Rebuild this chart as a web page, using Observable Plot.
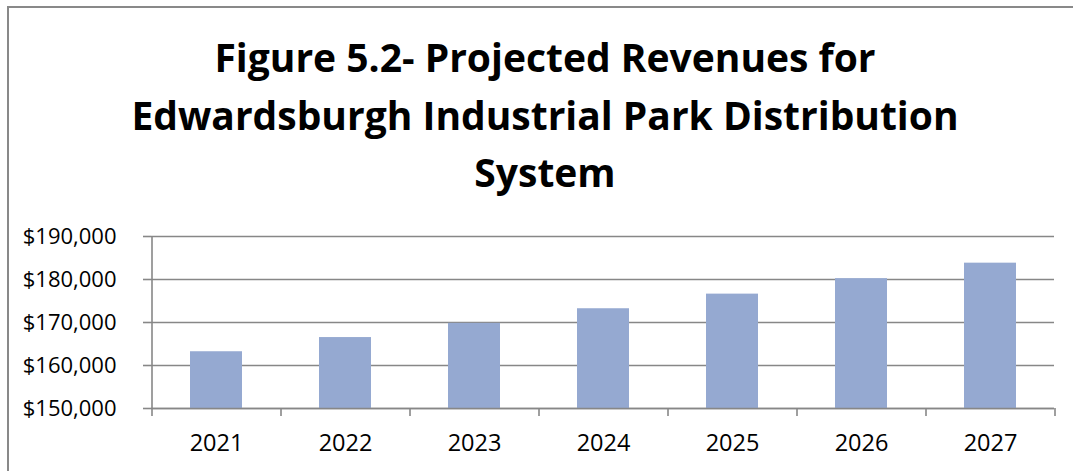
<!DOCTYPE html>
<html>
<head>
<meta charset="utf-8">
<script src="https://cdn.jsdelivr.net/npm/d3@7"></script>
<script src="https://cdn.jsdelivr.net/npm/@observablehq/plot@0.6"></script>
<style>
  html, body { margin: 0; padding: 0; background: #fff; overflow: hidden; width: 1073px; height: 471px; }
  #frame { position: absolute; left: 7px; top: 6px; width: 1074px; height: 480px; border: 2px solid #898989; box-sizing: border-box; }
  #title { position: absolute; left: 0; top: 28px; width: 1090px; text-align: center; font-family: "Open Sans", sans-serif; font-weight: 700; font-size: 39px; line-height: 57.5px; color: #000; }
  #chart { position: absolute; left: 0; top: 210px; }
</style>
</head>
<body>
<div id="frame"></div>
<div id="title">Figure 5.2- Projected Revenues for<br>Edwardsburgh Industrial Park Distribution<br>System</div>
<div id="chart"></div>
<script>
const years = ["2021", "2022", "2023", "2024", "2025", "2026", "2027"];
const revenues = [163200, 166500, 169800, 173200, 176600, 180200, 183800];
const yDomain = [150000, 190000];
const yTicks = [150000, 160000, 170000, 180000, 190000];

const data = years.map((y, i) => ({year: y, revenue: revenues[i]}));

const W = 1073, H = 261, mL = 151, mR = 19, mT = 26, mB = 63;
const step = (W - mL - mR) / years.length;
const grid = "#878787";

const chart = Plot.plot({
  width: W,
  height: H,
  marginLeft: mL,
  marginRight: mR,
  marginTop: mT,
  marginBottom: mB,
  style: {fontFamily: "'Open Sans', sans-serif", fontSize: "22px", color: "#000", background: "transparent", overflow: "visible"},
  x: {type: "band", domain: years, paddingInner: 0.6, paddingOuter: 0.3, axis: null, label: null},
  y: {domain: yDomain, axis: null, label: null},
  marks: [
    Plot.ruleY(yTicks, {stroke: grid, strokeWidth: 1.6}),
    Plot.barY(data, {x: "year", y1: yDomain[0], y2: "revenue", fill: "#95A9D1"}),
    Plot.ruleY([yDomain[0]], {stroke: grid, strokeWidth: 1.6}),
    Plot.ruleX([0], {x: () => years[0], dx: -step / 2, y1: yDomain[0], y2: yDomain[1], stroke: grid, strokeWidth: 1.6}),
    Plot.ruleX(years, {x: d => d, dx: -step / 2, y1: yDomain[0], y2: yDomain[0], insetBottom: -8, stroke: grid, strokeWidth: 1.6}),
    Plot.ruleX([years[years.length - 1]], {x: d => d, dx: step / 2, y1: yDomain[0], y2: yDomain[0], insetBottom: -8, stroke: grid, strokeWidth: 1.6}),
    Plot.axisY({ticks: yTicks, tickFormat: d => "$" + d3.format(",")(d), tickSize: 8, tickPadding: 27, stroke: grid, strokeWidth: 1.6, fill: "#000", label: null}),
    Plot.axisX({tickSize: 0, tickPadding: 26, fill: "#000", fontSize: 23.5, label: null})
  ]
});
document.getElementById("chart").appendChild(chart);
</script>
</body>
</html>
